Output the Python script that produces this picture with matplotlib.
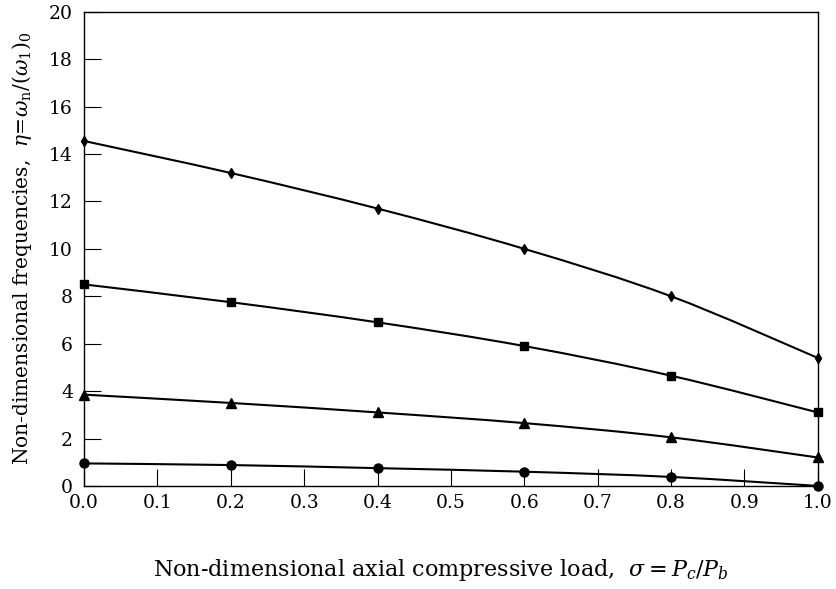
import numpy as np
import matplotlib
matplotlib.use("Agg")
import matplotlib.pyplot as plt
from matplotlib.path import Path
from matplotlib.patches import PathPatch

# ── data ─────────────────────────────────────────────────────────────────────
sigma = [0.0, 0.2, 0.4, 0.6, 0.8, 1.0]
mode4 = [14.55, 13.2, 11.7, 10.0, 8.0, 5.4]   # diamonds
mode3 = [8.5, 7.75, 6.9, 5.9, 4.65, 3.1]      # squares
mode2 = [3.85, 3.5, 3.1, 2.65, 2.05, 1.2]     # triangles
mode1 = [0.95, 0.88, 0.75, 0.6, 0.38, 0.0]    # circles

x_ticks = [0.0, 0.1, 0.2, 0.3, 0.4, 0.5, 0.6, 0.7, 0.8, 0.9, 1.0]
y_ticks = [0, 2, 4, 6, 8, 10, 12, 14, 16, 18, 20]

plt.rcParams["font.family"] = "DejaVu Serif"
plt.rcParams["mathtext.fontset"] = "dejavuserif"


def smooth_path(xs, ys):
    # Catmull-Rom style cubic Bezier through the data points
    p = np.column_stack([xs, ys])
    pad = np.vstack([p[0], p, p[-1]])
    verts = [p[0]]
    codes = [Path.MOVETO]
    for i in range(len(p) - 1):
        p0, p1, p2, p3 = pad[i], pad[i + 1], pad[i + 2], pad[i + 3]
        verts += [p1 + (p2 - p0) / 6, p2 - (p3 - p1) / 6, p2]
        codes += [Path.CURVE4] * 3
    return Path(verts, codes)


fig = plt.figure(figsize=(8.37, 5.89), dpi=100)
ax = fig.add_axes([0.1004, 0.175, 0.8766, 0.805])

series = [(mode4, "d", 5.5), (mode3, "s", 6), (mode2, "^", 6.5), (mode1, "o", 6.5)]
for ys, mk, ms in series:
    ax.add_patch(PathPatch(smooth_path(sigma, ys), facecolor="none",
                           edgecolor="black", linewidth=1.5, clip_on=False))
    ax.plot(sigma, ys, linestyle="none", marker=mk, markersize=ms,
            color="black", clip_on=False, zorder=3)

ax.set_xlim(0, 1.0)
ax.set_ylim(0, 20)
ax.set_xticks(x_ticks)
ax.set_xticklabels([f"{v:.1f}" for v in x_ticks])
ax.set_yticks(y_ticks)
ax.tick_params(direction="in", length=12, width=0.8, labelsize=13.5,
               top=False, right=False)
ax.tick_params(axis="x", pad=6)
ax.tick_params(axis="y", pad=8)
for s in ax.spines.values():
    s.set_linewidth(1.0)

ax.set_xlabel("Non-dimensional axial compressive load,  $\\sigma = P_c/P_b$",
              fontsize=16)
ax.set_ylabel("Non-dimensional frequencies,  $\\eta\\!=\\!\\omega_{\\rm n}/(\\omega_1)_0$",
              fontsize=14.5)
ax.xaxis.set_label_coords(0.486, -0.15)
ax.yaxis.set_label_coords(-0.068, 0.5)

fig.savefig("out.png", dpi=100)
